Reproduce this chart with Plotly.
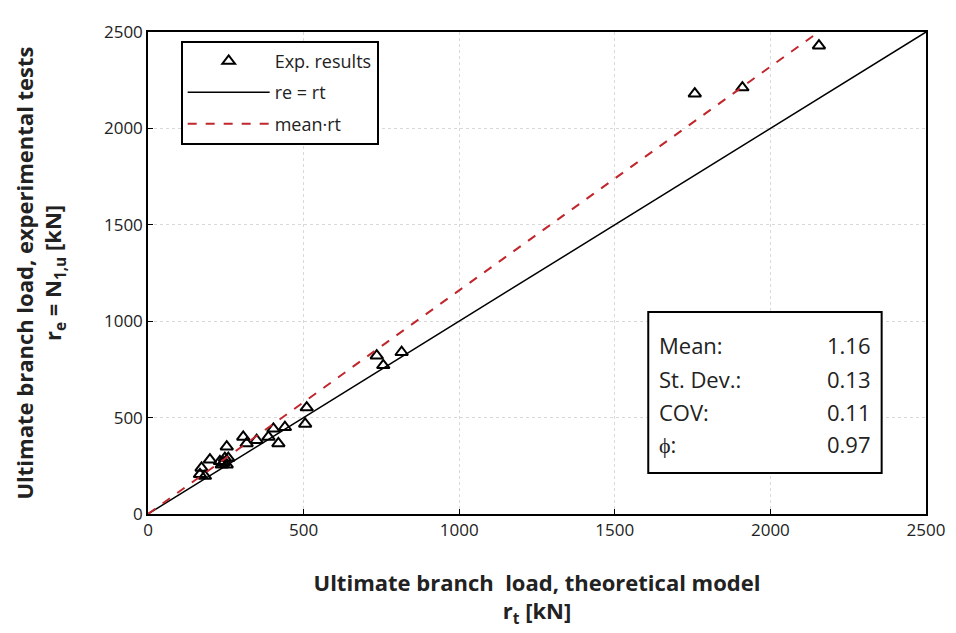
import plotly.graph_objects as go

# Experimental results: theoretical r_t vs experimental r_e [kN]
rt_vals = [1757, 1910, 2156, 735, 756, 815, 510, 505, 440, 403, 419, 387, 349,
           306, 317, 253, 247, 242, 253, 237, 199, 172, 167, 183, 258, 231]
re_vals = [2180, 2212, 2429, 821, 771, 839, 552, 467, 450, 442, 366, 400, 383,
           400, 366, 349, 290, 265, 256, 256, 282, 239, 206, 197, 290, 273]

mean_ratio = 1.16
line_x = [0, 2500]
mean_x = [0, 2500 / mean_ratio]

stat_labels = ["Mean:", "St. Dev.:", "COV:", "ϕ:"]
stat_values = ["1.16", "0.13", "0.11", "0.97"]

FONT = "Open Sans"

fig = go.Figure()
fig.add_trace(go.Scatter(
    x=rt_vals, y=re_vals, mode="markers", name="Exp. results", legendgroup="a",
    marker=dict(symbol="triangle-up-open", size=11, color="black",
                line=dict(width=2, color="black")),
))
fig.add_trace(go.Scatter(
    x=line_x, y=line_x, mode="lines", name="re = rt", legendgroup="b",
    line=dict(color="black", width=1.5),
))
fig.add_trace(go.Scatter(
    x=mean_x, y=[v * mean_ratio for v in mean_x], mode="lines", name="mean·rt",
    legendgroup="c",
    line=dict(color="#C0272D", width=2, dash="dash"),
))

axis_common = dict(
    range=[0, 2500], dtick=500, showline=True, linecolor="black", linewidth=1.5,
    mirror=True, ticks="inside", ticklen=5, tickcolor="black",
    showgrid=True, gridcolor="#d9d9d9", griddash="dot", gridwidth=1,
    zeroline=False, tickfont=dict(family=FONT, size=17, color="#222"),
)

fig.update_layout(
    width=956, height=633,
    margin=dict(l=140, r=38, t=12, b=127),
    paper_bgcolor="white", plot_bgcolor="white",
    font=dict(family=FONT, color="#222"),
    xaxis=dict(**axis_common, title=dict(
        text="<b>Ultimate branch  load, theoretical model<br>r<sub>t</sub> [kN]</b>",
        font=dict(family=FONT, size=22, color="#222"), standoff=35)),
    yaxis=dict(**axis_common, title=dict(
        text="<b>Ultimate branch load, experimental tests<br>r<sub>e</sub> = N<sub>1,u</sub> [kN]</b>",
        font=dict(family=FONT, size=22, color="#222"), standoff=36)),
    legend=dict(
        x=0.042, y=0.982, xanchor="left", yanchor="top",
        bgcolor="white", bordercolor="black", borderwidth=2,
        font=dict(family=FONT, size=18, color="#222"),
        itemwidth=82, tracegroupgap=5,
    ),
    showlegend=True,
)

# Stats box
fig.add_shape(type="rect", xref="paper", yref="paper",
              x0=0.643, x1=0.943, y0=0.085, y1=0.419,
              line=dict(color="black", width=2), fillcolor="white", layer="above")
row_y = [0.351, 0.280, 0.211, 0.145]
for lab, val, yy in zip(stat_labels, stat_values, row_y):
    fig.add_annotation(xref="paper", yref="paper", x=0.654, y=yy,
                       xanchor="left", yanchor="middle", showarrow=False,
                       text=lab, font=dict(family=FONT, size=22, color="#222"))
    fig.add_annotation(xref="paper", yref="paper", x=0.932, y=yy,
                       xanchor="right", yanchor="middle", showarrow=False,
                       text=val, font=dict(family=FONT, size=22, color="#222"))

fig.write_html("out.html")
